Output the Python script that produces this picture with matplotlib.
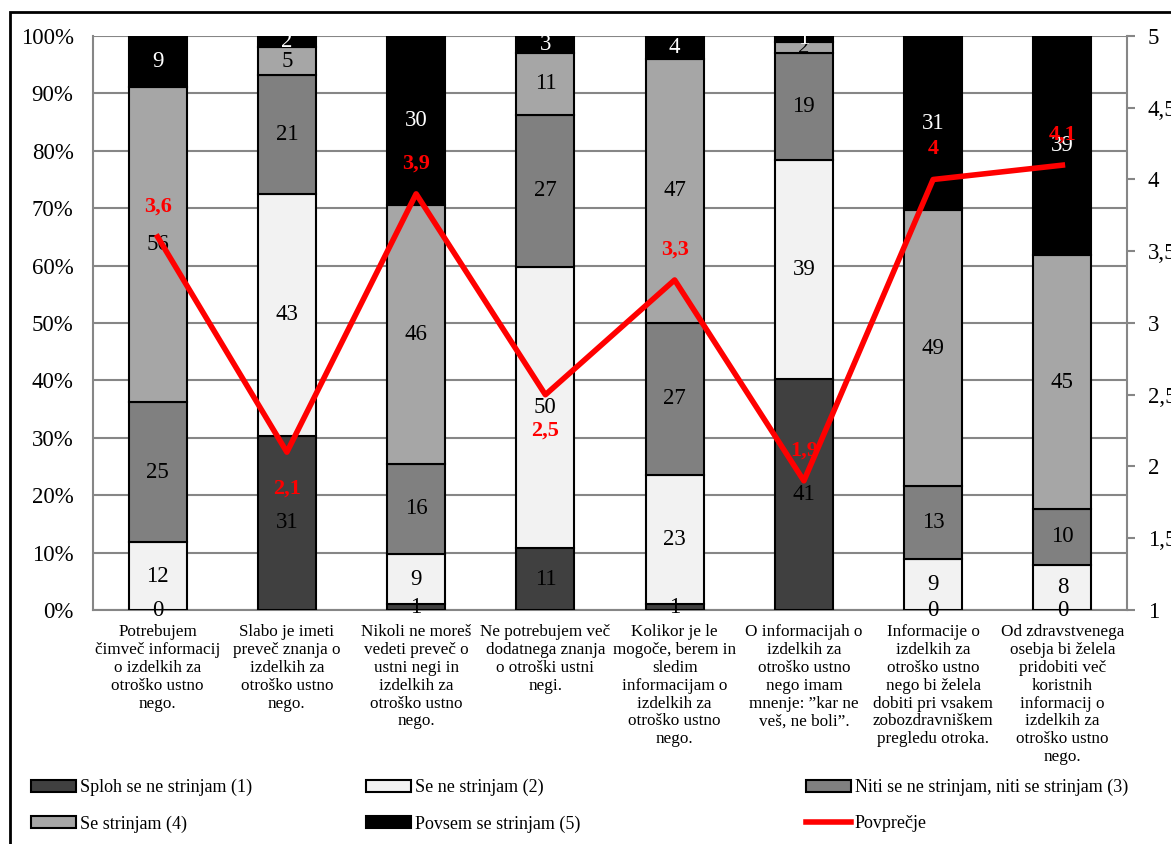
import matplotlib
matplotlib.use("Agg")
import matplotlib.pyplot as plt
from matplotlib.patches import Rectangle, Patch
from matplotlib.lines import Line2D
from matplotlib.ticker import FuncFormatter, MultipleLocator
import numpy as np

plt.rcParams['font.family'] = ['Liberation Serif', 'DejaVu Serif']

categories = [
    "Potrebujem\nčimveč informacij\no izdelkih za\notroško ustno\nnego.",
    "Slabo je imeti\npreveč znanja o\nizdelkih za\notroško ustno\nnego.",
    "Nikoli ne moreš\nvedeti preveč o\nustni negi in\nizdelkih za\notroško ustno\nnego.",
    "Ne potrebujem več\ndodatnega znanja\no otroški ustni\nnegi.",
    "Kolikor je le\nmogoče, berem in\nsledim\ninformacijam o\nizdelkih za\notroško ustno\nnego.",
    "O informacijah o\nizdelkih za\notroško ustno\nnego imam\nmnenje: ”kar ne\nveš, ne boli”.",
    "Informacije o\nizdelkih za\notroško ustno\nnego bi želela\ndobiti pri vsakem\nzobozdravniškem\npregledu otroka.",
    "Od zdravstvenega\nosebja bi želela\npridobiti več\nkoristnih\ninformacij o\nizdelkih za\notroško ustno\nnego.",
]

series_names = ["Sploh se ne strinjam (1)", "Se ne strinjam (2)",
                "Niti se ne strinjam, niti se strinjam (3)", "Se strinjam (4)",
                "Povsem se strinjam (5)"]
s1 = [0, 31, 1, 11, 1, 41, 0, 0]
s2 = [12, 43, 9, 50, 23, 39, 9, 8]
s3 = [25, 21, 16, 27, 27, 19, 13, 10]
s4 = [56, 5, 46, 11, 47, 2, 49, 45]
s5 = [9, 2, 30, 3, 4, 1, 31, 39]
averages = [3.6, 2.1, 3.9, 2.5, 3.3, 1.9, 4.0, 4.1]
avg_labels = ["3,6", "2,1", "3,9", "2,5", "3,3", "1,9", "4", "4,1"]
avg_label_side = [1, -1, 1, -1, 1, 1, 1, 1]
avg_name = "Povprečje"

colors = ["#404040", "#f2f2f2", "#808080", "#a6a6a6", "#000000"]
text_colors = ["black", "black", "black", "black", "white"]

W, H = 1171, 844
fig = plt.figure(figsize=(W / 100, H / 100), dpi=100)
L, R, T, B = 93, 1127, 36, 610
ax = fig.add_axes([L / W, 1 - B / H, (R - L) / W, (B - T) / H])

data = np.array([s1, s2, s3, s4, s5], dtype=float)
totals = data.sum(axis=0)
pct = data / totals * 100
x = np.arange(len(categories))
bottom = np.zeros(len(categories))
for i in range(5):
    ax.bar(x, pct[i], 0.45, bottom=bottom, color=colors[i], edgecolor="black",
           linewidth=1.5, zorder=3)
    for j in range(len(categories)):
        ax.text(x[j], bottom[j] + pct[i][j] / 2, f"{int(data[i][j])}",
                ha="center", va="center", fontsize=16.5, color=text_colors[i], zorder=5)
    bottom += pct[i]

ax.set_xlim(-0.5, len(categories) - 0.5)
ax.set_ylim(0, 100)
ax.yaxis.set_major_locator(MultipleLocator(10))
ax.yaxis.set_major_formatter(FuncFormatter(lambda v, p: f"{int(v)}%"))
ax.grid(axis="y", color="#868686", linewidth=1.5, zorder=0)
ax.set_axisbelow(True)
ax.tick_params(axis="y", length=0, pad=14, labelsize=16.5)
ax.tick_params(axis="x", length=0, pad=10)
ax.set_xticks(x)
ax.set_xticklabels(categories, fontsize=12.3, linespacing=1.16, va="top")
for s in ["left", "bottom", "right", "top"]:
    ax.spines[s].set_color("#868686")
    ax.spines[s].set_linewidth(1.5)
ax.spines["top"].set_visible(False)

ax2 = ax.twinx()
ax2.set_ylim(1, 5)
ax2.yaxis.set_major_locator(MultipleLocator(0.5))
ax2.yaxis.set_major_formatter(FuncFormatter(
    lambda v, p: (f"{v:.0f}" if abs(v - round(v)) < 1e-9 else f"{v:.1f}".replace(".", ","))))
ax2.tick_params(axis="y", direction="out", length=6, width=1.5, color="#868686",
                pad=9, labelsize=16.5)
for s in ["left", "bottom", "right", "top"]:
    ax2.spines[s].set_visible(False)
ax2.plot(x, averages, color="#ff0000", linewidth=4, zorder=6)
for j in range(len(categories)):
    off = 22 if avg_label_side[j] > 0 else -26
    ax2.annotate(avg_labels[j], (x[j], averages[j]), xytext=(0, off),
                 textcoords="offset points", ha="center", va="center",
                 fontsize=16, fontweight="bold", color="#ff0000", zorder=7)

handles = [Patch(facecolor=c, edgecolor="black", linewidth=1.5) for c in colors]
handles.append(Line2D([0], [0], color="#ff0000", linewidth=4))
labels = series_names + [avg_name]
col_x = [31, 366, 806]
groups = [[0, 3], [1, 4], [2, 5]]
for cx, g in zip(col_x, groups):
    leg = fig.legend([handles[k] for k in g], [labels[k] for k in g],
                     loc="upper left", bbox_to_anchor=(cx / W, 1 - 779 / H),
                     frameon=False, fontsize=13, handlelength=2.5, handleheight=0.6,
                     handletextpad=0.2, labelspacing=1.05, borderpad=0, borderaxespad=0)

fig.patches.append(Rectangle((10 / W, -0.1), 1.2, (H - 12) / H + 0.1, fill=False,
                             edgecolor="black", linewidth=2, transform=fig.transFigure))

fig.savefig("out.png", dpi=100, facecolor="white")
